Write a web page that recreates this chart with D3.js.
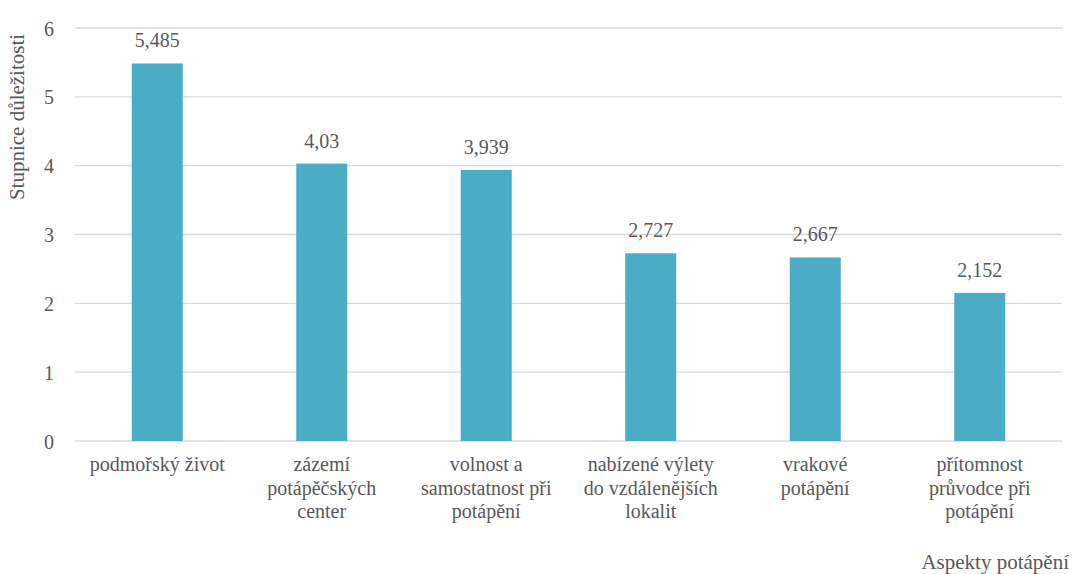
<!DOCTYPE html>
<html>
<head>
<meta charset="utf-8">
<script src="https://cdn.jsdelivr.net/npm/d3@7"></script>
<style>
  body { margin: 0; background: #fff; }
</style>
</head>
<body>
<div id="chart"></div>
<script>
// data
const categories = [
  ["podmořský život"],
  ["zázemí", "potápěčských", "center"],
  ["volnost a", "samostatnost při", "potápění"],
  ["nabízené výlety", "do vzdálenějších", "lokalit"],
  ["vrakové", "potápění"],
  ["přítomnost", "průvodce při", "potápění"]
];
const values = [5.485, 4.03, 3.939, 2.727, 2.667, 2.152];
const valueLabels = ["5,485", "4,03", "3,939", "2,727", "2,667", "2,152"];
const yTicks = [0, 1, 2, 3, 4, 5, 6];
const yTitle = "Stupnice důležitosti";
const xTitle = "Aspekty potápění";

const w = 1077, h = 574;
const m = {top: 28, right: 15, bottom: 133, left: 75};

// pick the first serif font that is really installed
const ctx = document.createElement("canvas").getContext("2d");
function width(f) { ctx.font = "40px " + f; return ctx.measureText("podmořský život Wg 0123").width; }
const base = width("monospace");
const candidates = ["Liberation Serif", "Tinos", "Times New Roman", "DejaVu Serif", "serif"];
let pick = candidates.find(f => width("'" + f + "', monospace") !== base) || "serif";
const serif = "'" + pick + "', serif";

const svg = d3.select("#chart").append("svg")
  .attr("width", w)
  .attr("height", h)
  .attr("font-family", serif)
  .attr("fill", "#595959");

const x = d3.scaleBand()
  .domain(d3.range(values.length))
  .range([m.left, w - m.right])
  .paddingInner(0.69)
  .paddingOuter(0.345);

const y = d3.scaleLinear()
  .domain([0, 6])
  .range([h - m.bottom, m.top]);

// gridlines
svg.append("g")
  .selectAll("line")
  .data(yTicks)
  .enter().append("line")
    .attr("x1", m.left)
    .attr("x2", w - m.right)
    .attr("y1", d => y(d))
    .attr("y2", d => y(d))
    .attr("stroke", "#d9d9d9")
    .attr("stroke-width", 1.3);

// y axis labels
const yAxis = svg.append("g")
  .attr("transform", `translate(${m.left - 18},0)`)
  .call(d3.axisLeft(y).tickValues(yTicks).tickSize(0).tickFormat(d3.format("d")));
yAxis.attr("font-family", serif).attr("font-size", 20);
yAxis.select(".domain").remove();
yAxis.selectAll("text")
  .attr("fill", "#595959")
  .attr("dy", "0.35em");

// bars
svg.append("g")
  .selectAll("rect")
  .data(values)
  .enter().append("rect")
    .attr("x", (d, i) => x(i))
    .attr("y", d => y(d))
    .attr("width", x.bandwidth())
    .attr("height", d => y(0) - y(d))
    .attr("fill", "#4bacc6");

// value labels
svg.append("g")
  .selectAll("text")
  .data(values)
  .enter().append("text")
    .attr("x", (d, i) => x(i) + x.bandwidth() / 2)
    .attr("y", d => y(d) - 16)
    .attr("text-anchor", "middle")
    .attr("font-size", 20)
    .text((d, i) => valueLabels[i]);

// category labels
const cat = svg.append("g")
  .selectAll("text")
  .data(categories)
  .enter().append("text")
    .attr("text-anchor", "middle")
    .attr("font-size", 20)
    .attr("x", (d, i) => x(i) + x.bandwidth() / 2)
    .attr("y", y(0) + 30);
cat.selectAll("tspan")
  .data((d, i) => d.map(s => ({s, i})))
  .enter().append("tspan")
    .attr("x", d => x(d.i) + x.bandwidth() / 2)
    .attr("dy", (d, k) => k === 0 ? 0 : 23.5)
    .text(d => d.s);

// axis titles
svg.append("text")
  .attr("transform", "translate(24,117) rotate(-90)")
  .attr("text-anchor", "middle")
  .attr("font-size", 21)
  .text(yTitle);

svg.append("text")
  .attr("x", w - 8)
  .attr("y", 569)
  .attr("text-anchor", "end")
  .attr("font-size", 21)
  .text(xTitle);
</script>
</body>
</html>
